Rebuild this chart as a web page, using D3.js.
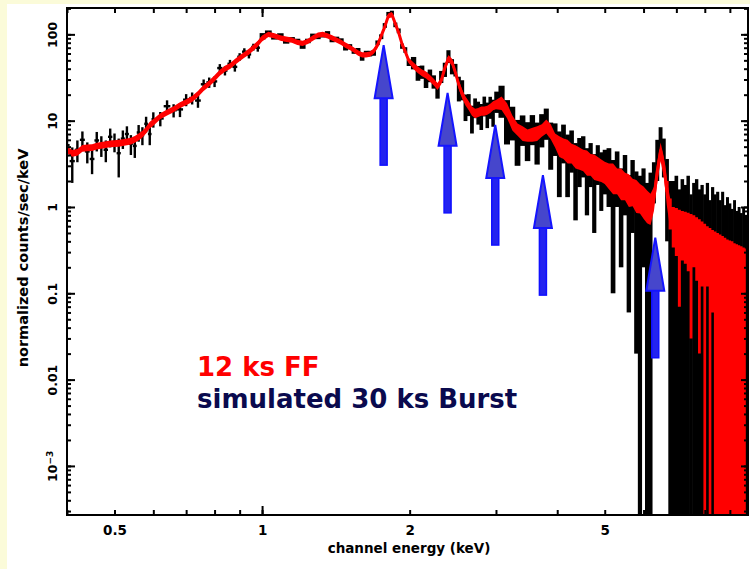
<!DOCTYPE html>
<html lang="en">
<head>
<meta charset="UTF-8">
<title>Spectrum: 12 ks FF vs simulated 30 ks Burst</title>
<style>
    body {
        margin: 0;
        padding: 0;
        background-color: #fbfbd9;
        overflow: hidden;
    }
    svg {
        display: block;
    }
</style>
</head>
<body>
<svg id="chart" width="750" height="569"></svg>

<script src="https://d3js.org/d3.v7.min.js"></script>
<script>
    // channel energies (keV)
    const energy = [
        0.40, 0.41, 0.42, 0.43, 0.44, 0.45, 0.46, 0.47, 0.48, 0.49, 0.50, 0.51, 0.52, 0.53, 0.54, 0.55, 0.56, 0.57, 0.58, 0.59, 0.60,
        0.62, 0.64, 0.66, 0.68, 0.70, 0.72, 0.74, 0.76, 0.78, 0.80, 0.82, 0.84, 0.86, 0.88, 0.90, 0.92, 0.94, 0.96, 0.98, 1.00,
        1.03, 1.06, 1.09, 1.12, 1.15, 1.18, 1.21, 1.24, 1.27, 1.30, 1.33, 1.36, 1.39, 1.42, 1.45, 1.48, 1.51, 1.54, 1.57, 1.60,
        1.63, 1.66, 1.69, 1.72, 1.75, 1.78, 1.81, 1.84, 1.87, 1.90, 1.93, 1.96, 1.99,
        2.04, 2.08, 2.12, 2.16, 2.20, 2.24, 2.28, 2.32, 2.36, 2.40, 2.44, 2.48, 2.52, 2.56, 2.60, 2.64, 2.68, 2.72, 2.76, 2.80,
        2.84, 2.88, 2.92, 2.96, 3.00,
        3.08, 3.16, 3.24, 3.32, 3.40, 3.48, 3.56, 3.64, 3.72, 3.80, 3.88, 3.96, 4.04, 4.12, 4.20, 4.28, 4.36, 4.44, 4.52, 4.60,
        4.68, 4.76, 4.84, 4.92, 5.00,
        5.1, 5.2, 5.3, 5.4, 5.5, 5.6, 5.7, 5.8, 5.9, 6.0, 6.1, 6.2, 6.3, 6.4, 6.5, 6.6, 6.7, 6.8, 6.9, 7.0,
        7.1, 7.2, 7.3, 7.4, 7.5, 7.6, 7.7, 7.8, 7.9, 8.0, 8.1, 8.2, 8.3, 8.4, 8.5, 8.6, 8.7, 8.8, 8.9, 9.0,
        9.1, 9.2, 9.3, 9.4, 9.5, 9.6, 9.7
    ];

    // 12 ks FF (red): counts/sec/keV and 1-sigma error
    const ffRate = [
        4.6, 4.2, 4.3, 4.8, 4.85, 4.9, 5.1, 5.2, 5.3, 5.4, 5.45, 5.5, 5.6, 5.7, 5.8, 6.1, 6.5, 7.0, 7.8, 8.9, 9.6,
        11.3, 12.5, 13.6, 15.2, 16.4, 17.9, 20.4, 24, 27, 31, 36, 40, 43, 48, 53, 58, 63, 70, 78, 90,
        100, 96, 91, 88, 86, 81, 79, 83, 91, 98, 100, 96, 91, 86, 81, 75, 71, 66, 61, 58,
        58, 59, 64, 75, 96, 123, 164, 170, 133, 104, 77, 63, 50,
        43, 39, 36, 34, 31, 28, 25, 29, 41, 53, 48, 36, 26, 20.4, 17, 15, 13, 12.2, 12.5, 13,
        13, 13.3, 14, 15, 15.5,
        16.2, 13.3, 9.6, 8.0, 7.2, 6.8, 7.0, 7.2, 7.8, 8.7, 7.6, 6.0, 5.2, 4.9, 4.6, 4.3, 4.0, 3.8, 3.6, 3.4,
        3.2, 3.05, 2.9, 2.75, 2.6,
        2.4, 2.3, 2.1, 2.0, 1.85, 1.7, 1.57, 1.45, 1.34, 1.23, 1.1, 1.02, 1.3, 2.6, 4.5, 3.0, 1.5, 0.9, 0.67, 0.62,
        0.5, 0.57, 0.55, 0.52, 0.43, 0.5, 0.45, 0.37, 0.4, 0.31, 0.36, 0.27, 0.3, 0.25, 0.23, 0.22, 0.21, 0.2, 0.19, 0.18,
        0.18, 0.17, 0.16, 0.16, 0.15, 0.15, 0.14
    ];
    const ffErr = [
        0.41, 0.38, 0.39, 0.43, 0.44, 0.44, 0.46, 0.47, 0.48, 0.49, 0.49, 0.5, 0.5, 0.51, 0.52, 0.55, 0.59, 0.63, 0.7, 0.8, 0.86,
        0.9, 1.0, 1.1, 1.2, 1.3, 1.4, 1.6, 1.9, 2.2, 2.5, 2.9, 3.2, 3.4, 3.8, 4.2, 4.6, 5.0, 5.6, 6.2, 7.2,
        7, 6.7, 6.4, 6.2, 6, 5.7, 5.5, 5.8, 6.4, 6.9, 7, 6.7, 6.4, 6, 5.7, 5.3, 5, 4.6, 4.3, 4.1,
        4.1, 4.1, 4.5, 5.3, 6.7, 8.6, 11.5, 11.9, 9.3, 7.3, 5.4, 4.4, 3.5,
        3.9, 3.5, 3.2, 3.1, 2.8, 2.5, 2.3, 2.6, 3.7, 4.8, 4.3, 3.2, 3.1, 2.4, 2.0, 1.8, 1.6, 1.5, 1.5, 1.6,
        1.6, 1.6, 1.7, 1.8, 1.9,
        2.9, 2.6, 1.9, 1.3, 1.4, 1.1, 1.3, 1.4, 1.3, 1.6, 1.5, 1.1, 1.4, 1.3, 1.4, 1.1, 1.2, 1.1, 1.0, 1.1,
        0.9, 1.0, 0.9, 0.8, 0.75,
        0.8, 0.9, 0.7, 0.8, 0.65, 0.7, 0.55, 0.6, 0.5, 0.5, 0.45, 0.4, 0.4, 0.7, 1.1, 0.8, 0.5, 0.35, 0.33, 0.35,
        0.43, 0.33, 0.33, 0.34, 0.4, 0.3, 0.31, 0.35, 0.28, 0.33, 0.24, 0.3, 0.24, 0.27, 0.27, 0.26, 0.25, 0.24, 0.23, 0.23,
        0.22, 0.21, 0.21, 0.2, 0.2, 0.19, 0.19
    ];

    // simulated 30 ks Burst (black): counts/sec/keV and 1-sigma error
    const burstRate = [
        5.2, 3.4, 4.6, 6.0, 4.4, 3.6, 5.9, 5.2, 4.6, 6.5, 5.7, 4.2, 6.2, 7.0, 5.4, 5.1, 7.3, 6.8, 9.2, 7.0, 10.4,
        10.6, 14.7, 13.2, 13.5, 17.5, 18.3, 17.1, 26.4, 27.8, 28.5, 40.7, 38, 45.6, 42, 55, 63, 58.6, 71.4, 70, 95.4,
        105, 93, 97, 83, 88, 84, 73, 84, 96, 94, 98, 103, 86, 89, 85, 70, 72, 64, 65, 54,
        60, 60, 61, 80, 94, 127, 172, 177, 129, 110, 73, 66, 47,
        47, 36, 37, 30, 33.5, 28.5, 22.5, 32.5, 39.5, 56, 43, 39, 24.5, 23.3, 15, 15.8, 11, 14.4, 12.8, 11.7,
        15.1, 12.2, 14.7, 13, 17,
        18.1, 11.3, 10.2, 6.6, 8.3, 6.5, 8.4, 6.3, 8.4, 9.9, 6.1, 6.6, 4.4, 6.1, 4.1, 5.1, 3.1, 4.0, 4.4, 2.8,
        3.6, 2.3, 3.5, 2.6, 3.0,
        2.9, 1.8, 2.7, 1.5, 2.4, 1.2, 2.0, 1.3, 1.1, 1.5, 0.9, 1.2, 2.2, 4.0, 6.0, 4.2, 2.0, 0.9, 0.9, 1.1,
        0.7, 1.0, 0.8, 1.1, 0.6, 0.9, 1.0, 0.7, 0.8, 0.6, 0.9, 0.5, 0.8, 0.6, 0.7, 0.5, 0.7, 0.45, 0.6, 0.5,
        0.4, 0.55, 0.4, 0.45, 0.35, 0.45, 0.35
    ];
    const burstErr = [
        1.4, 1.5, 1.3, 1.5, 1.2, 1.2, 1.5, 1.4, 1.3, 1.6, 1.4, 2.0, 1.5, 1.6, 1.4, 1.4, 1.6, 1.6, 1.9, 1.8, 2.1,
        2.0, 2.5, 2.3, 2.5, 2.8, 2.9, 3.0, 3.6, 3.8, 4.0, 4.5, 4.6, 5, 5, 5.5, 6, 6, 6.5, 7, 8,
        6, 6, 6, 5, 5, 5, 5, 5, 6, 6, 6, 6, 5, 5, 5, 5, 5, 4.5, 4.5, 4.5,
        4.5, 4.5, 4.5, 5, 6, 8, 10, 11, 8, 7, 5, 5, 4,
        7.7, 7, 6.5, 6.1, 5.6, 5, 4.5, 5.2, 7.4, 9.5, 8.6, 6.5, 7.8, 6.1, 5.1, 4.5, 3.9, 3.7, 3.8, 3.9,
        3.9, 4.0, 4.2, 4.5, 4.7,
        7.3, 6.0, 4.3, 3.6, 3.2, 3.1, 3.2, 3.2, 3.5, 3.9, 3.4, 2.7, 3.1, 2.9, 2.8, 2.6, 2.4, 2.3, 2.2, 2.0,
        1.9, 1.8, 1.7, 1.7, 1.6,
        1.9, 1.7, 1.7, 1.3, 1.6, 1.14, 1.5, 1.28, 1.2, 1.3, 1.0, 1.3, 1.1, 2.0, 2.4, 2.0, 1.6, 1.1, 1.1, 1.2,
        0.9, 1.1, 1.0, 1.2, 0.8, 1.0, 1.1, 0.9, 1.0, 0.8, 1.0, 0.7, 0.9, 0.8, 0.8, 0.7, 0.8, 0.6, 0.7, 0.6,
        0.55, 0.65, 0.5, 0.55, 0.5, 0.55, 0.45
    ];

    // line markers: energy (keV) and tip height (counts/sec/keV)
    const arrowEnergy = [1.77, 2.39, 2.99, 3.74, 6.34];
    const arrowTip = [75, 21, 8.9, 2.34, 0.44];

    const xTickLabels = [0.5, 1, 2, 5];
    const xMajorTicks = [1];
    const yTickLabels = [0.001, 0.01, 0.1, 1, 10, 100];
    const legendLabels = ["12 ks FF", "simulated 30 ks Burst"];
    const legendColors = ["#ff0000", "#0a0a4e"];

    if (![ffRate, ffErr, burstRate, burstErr].every(a => a.length === energy.length)) {
        console.warn("array length mismatch");
    }

    const svg = d3.select("#chart");
    const plotLeft = 67, plotRight = 748, plotTop = 8, plotBottom = 515;

    const x = d3.scaleLog().domain([0.4, 9.8]).range([plotLeft, plotRight]);
    const y = d3.scaleLog().domain([2.7e-4, 202]).range([plotBottom, plotTop]);

    // white page area
    svg.append("rect")
        .attr("x", 7).attr("y", 4)
        .attr("width", 743).attr("height", 565)
        .attr("fill", "#ffffff");

    svg.append("clipPath").attr("id", "plotClip")
        .append("rect")
        .attr("x", plotLeft).attr("y", plotTop)
        .attr("width", plotRight - plotLeft).attr("height", plotBottom - plotTop);

    const plot = svg.append("g").attr("clip-path", "url(#plotClip)");

    // anything at or below zero is drawn down past the bottom edge
    const yOf = v => v > y.domain()[0] ? y(v) : plotBottom + 5;

    const centers = energy.map(e => x(e));
    const bins = energy.map((e, i) => {
        const c = centers[i];
        const prev = i > 0 ? centers[i - 1] : c - (centers[1] - centers[0]);
        const next = i < centers.length - 1 ? centers[i + 1] : c + (c - centers[i - 1]);
        return {
            e: e, c: c, l: (prev + c) / 2, r: (c + next) / 2,
            bv: burstRate[i], be: burstErr[i],
            fv: ffRate[i], fe: ffErr[i]
        };
    });

    // black error bars
    plot.append("g").selectAll("rect")
        .data(bins)
        .join("rect")
        .attr("x", d => d.e < 1 ? d.c - 1.2 : d.l - 0.3)
        .attr("width", d => d.e < 1 ? 2.4 : d.r - d.l + 0.6)
        .attr("y", d => y(d.bv + d.be))
        .attr("height", d => yOf(d.bv - d.be) - y(d.bv + d.be))
        .attr("fill", "#000");

    plot.append("g").selectAll("line")
        .data(bins.filter(d => d.e < 1))
        .join("line")
        .attr("x1", d => d.l).attr("x2", d => d.r)
        .attr("y1", d => y(d.bv)).attr("y2", d => y(d.bv))
        .attr("stroke", "#000")
        .attr("stroke-width", 2.4);

    // red band: smooth where errors are small, stepped bins at the noisy high end
    const ffArea = d3.area()
        .x(d => d.c)
        .y0(d => yOf(d.fv - d.fe))
        .y1(d => y(d.fv + d.fe));

    plot.append("path")
        .datum(bins.filter(d => d.e <= 6.8))
        .attr("fill", "#ff0000")
        .attr("d", ffArea);

    plot.append("path")
        .datum(bins.filter(d => d.e >= 6.7))
        .attr("fill", "#ff0000")
        .attr("d", ffArea.curve(d3.curveStep));

    plot.append("path")
        .datum(bins.filter(d => d.e < 6.8))
        .attr("fill", "none")
        .attr("stroke", "#ff0000")
        .attr("stroke-width", 3)
        .attr("stroke-linejoin", "round")
        .attr("d", d3.line().x(d => d.c).y(d => y(d.fv)));

    // axes, ticks pointing inwards on all four sides
    const axes = svg.append("g");

    function ticks(axis, values, size, tx, ty) {
        axes.append("g")
            .attr("transform", `translate(${tx},${ty})`)
            .call(axis.tickValues(values).tickSizeInner(-size).tickSizeOuter(0).tickFormat(""))
            .call(g => g.select(".domain").remove())
            .selectAll("line")
            .attr("stroke", "#000")
            .attr("stroke-width", 2);
    }

    ticks(d3.axisBottom(x), x.ticks(), 5, 0, plotBottom);
    ticks(d3.axisBottom(x), xMajorTicks, 9, 0, plotBottom);
    ticks(d3.axisTop(x), x.ticks(), 5, 0, plotTop);
    ticks(d3.axisTop(x), xMajorTicks, 9, 0, plotTop);
    ticks(d3.axisLeft(y), y.ticks(), 4, plotLeft, 0);
    ticks(d3.axisLeft(y), yTickLabels, 8, plotLeft, 0);
    ticks(d3.axisRight(y), y.ticks(), 4, plotRight, 0);
    ticks(d3.axisRight(y), yTickLabels, 7, plotRight, 0);

    // x labels
    axes.append("g")
        .attr("transform", `translate(0,${plotBottom})`)
        .call(d3.axisBottom(x).tickValues(xTickLabels).tickSize(0).tickPadding(10).tickFormat(d => String(d)))
        .call(g => g.select(".domain").remove())
        .selectAll("text")
        .attr("font-family", "DejaVu Sans, sans-serif")
        .attr("font-weight", "bold")
        .attr("font-size", 13.5)
        .attr("fill", "#000");

    // y labels, rotated like the original
    axes.append("g")
        .attr("transform", `translate(${plotLeft},0)`)
        .call(d3.axisLeft(y).tickValues(yTickLabels).tickSize(0)
            .tickFormat(d => d === 0.001 ? "10" : String(d)))
        .call(g => g.select(".domain").remove())
        .selectAll("text")
        .attr("transform", "rotate(-90)")
        .attr("x", 0)
        .attr("y", -10)
        .attr("dy", 0)
        .attr("text-anchor", "middle")
        .attr("font-family", "DejaVu Sans, sans-serif")
        .attr("font-weight", "bold")
        .attr("font-size", 12.5)
        .attr("fill", "#000")
        .filter(d => d === 0.001)
        .append("tspan")
        .attr("dy", "-0.5em")
        .attr("font-size", 9)
        .text("\u22123");

    // axis titles
    axes.append("text")
        .attr("x", 409).attr("y", 553)
        .attr("text-anchor", "middle")
        .attr("font-family", "DejaVu Sans, sans-serif")
        .attr("font-weight", "bold")
        .attr("font-size", 13.5)
        .text("channel energy (keV)");

    axes.append("text")
        .attr("transform", "translate(27.5,258) rotate(-90)")
        .attr("text-anchor", "middle")
        .attr("font-family", "DejaVu Sans, sans-serif")
        .attr("font-weight", "bold")
        .attr("font-size", 14.5)
        .text("normalized counts/sec/keV");

    // frame
    svg.append("rect")
        .attr("x", plotLeft).attr("y", plotTop)
        .attr("width", plotRight - plotLeft).attr("height", plotBottom - plotTop)
        .attr("fill", "none")
        .attr("stroke", "#000")
        .attr("stroke-width", 2);

    // blue arrows
    const arrows = svg.append("g");
    arrowEnergy.forEach((e, i) => {
        const cx = x(e), ty = y(arrowTip[i]);
        arrows.append("rect")
            .attr("x", cx - 3.5).attr("y", ty + 52)
            .attr("width", 7).attr("height", 68)
            .attr("fill", "#2323f0")
            .attr("stroke", "#1010ff")
            .attr("stroke-width", 1.5);
        arrows.append("path")
            .attr("d", `M${cx},${ty} L${cx + 9},${ty + 53} L${cx - 9},${ty + 53} Z`)
            .attr("fill", "#4646cc")
            .attr("stroke", "#1414ff")
            .attr("stroke-width", 2)
            .attr("stroke-linejoin", "miter");
    });

    // legend
    svg.append("g").selectAll("text")
        .data(legendLabels)
        .join("text")
        .attr("x", 197)
        .attr("y", (d, i) => 376 + i * 32)
        .attr("font-family", "DejaVu Sans, Verdana, sans-serif")
        .attr("font-weight", "bold")
        .attr("font-size", 26)
        .attr("fill", (d, i) => legendColors[i])
        .text(d => d);
</script>
</body>
</html>
